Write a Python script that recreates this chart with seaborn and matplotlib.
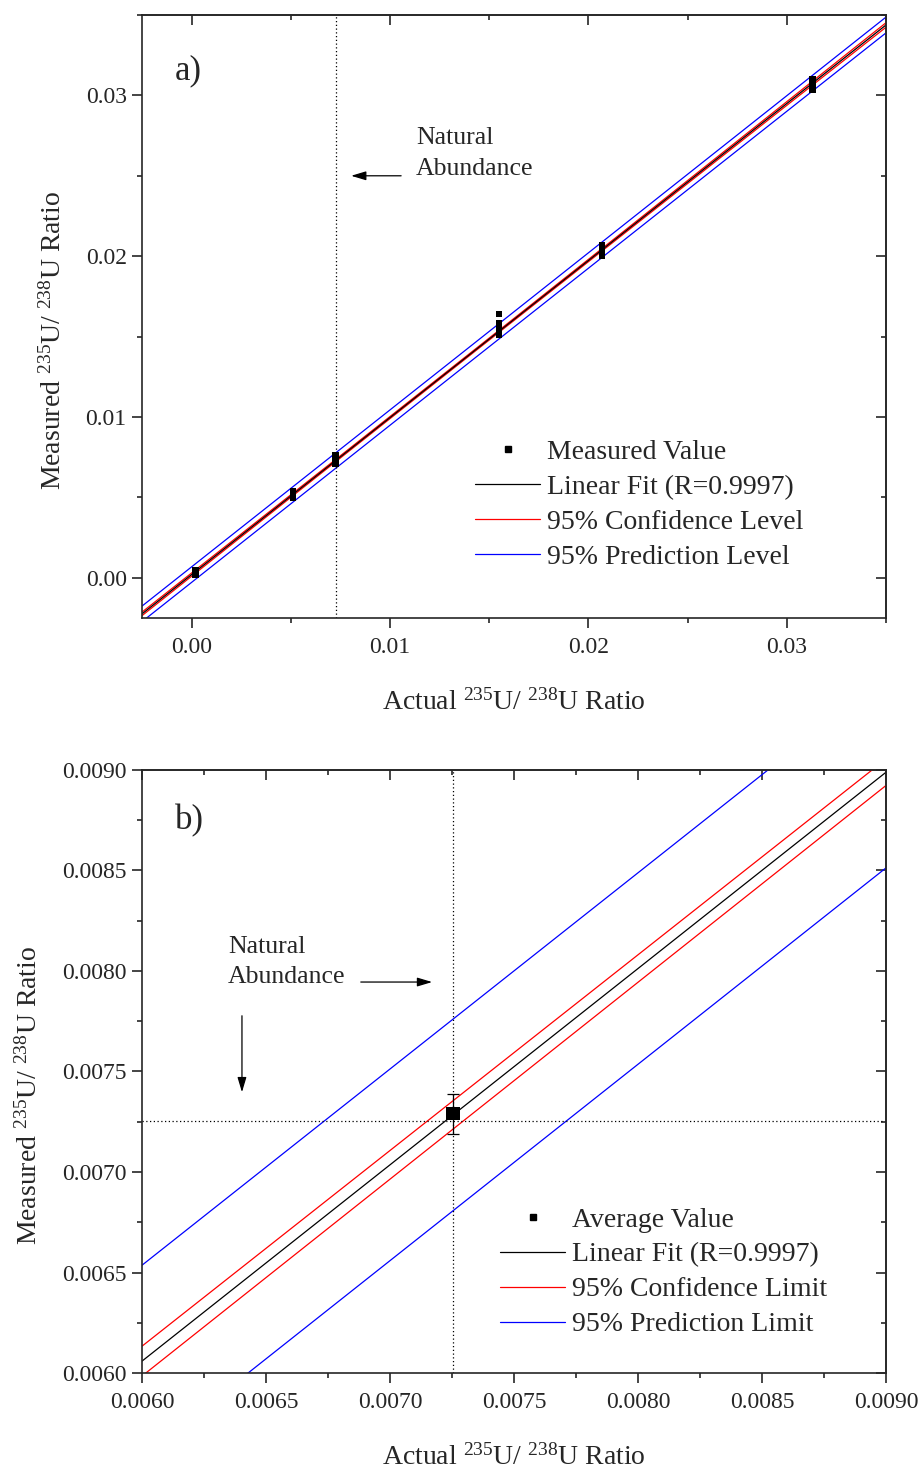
import matplotlib

matplotlib.use("Agg")
import matplotlib.pyplot as plt
import numpy as np
import pandas as pd
import seaborn as sns
from matplotlib.lines import Line2D
from matplotlib.ticker import FormatStrFormatter, MultipleLocator

# actual 235U/238U ratio of each standard and the measured replicates
actual_levels = [0.0002, 0.0051, 0.00725, 0.0155, 0.0207, 0.0313]
measured_1 = [0.00018, 0.00022, 0.00026, 0.00028, 0.00030, 0.00032, 0.00036, 0.00040, 0.00042, 0.00046]
measured_2 = [0.00495, 0.00500, 0.00505, 0.00510, 0.00515, 0.00518, 0.00522, 0.00528, 0.00535, 0.00542]
measured_3 = [0.00706, 0.00710, 0.00716, 0.00722, 0.00728, 0.00734, 0.00740, 0.00746, 0.00752, 0.00766]
measured_4 = [0.01512, 0.01516, 0.01520, 0.01526, 0.01532, 0.01538, 0.01546, 0.01558, 0.01582, 0.01640]
measured_5 = [0.02000, 0.02010, 0.02020, 0.02028, 0.02035, 0.02042, 0.02048, 0.02055, 0.02062, 0.02070]
measured_6 = [0.03035, 0.03045, 0.03055, 0.03062, 0.03070, 0.03076, 0.03083, 0.03090, 0.03100, 0.03104]
measured_sets = [measured_1, measured_2, measured_3, measured_4, measured_5, measured_6]

natural_ratio = 0.007253
avg_measured = 0.00729
avg_error = 0.0001
t_value = 2.0017  # two sided 95 %, n - 2 = 58 dof

label_x = r"Actual $^{235}$U/ $^{238}$U Ratio"
label_y = r"Measured $^{235}$U/ $^{238}$U Ratio"

rows = []
for level, values in zip(actual_levels, measured_sets):
    for v in values:
        rows.append({"actual": level, "measured": v})
df = pd.DataFrame(rows)

# linear fit with confidence / prediction bands
n = len(df)
slope, intercept = np.polyfit(df["actual"], df["measured"], 1)
resid = df["measured"] - (slope * df["actual"] + intercept)
s_err = np.sqrt(np.sum(resid**2) / (n - 2))
x_mean = df["actual"].mean()
sxx = np.sum((df["actual"] - x_mean) ** 2)


def fit_bands(xs):
    fit = slope * xs + intercept
    lev = 1 / n + (xs - x_mean) ** 2 / sxx
    conf = t_value * s_err * np.sqrt(lev)
    pred = t_value * s_err * np.sqrt(1 + lev)
    return fit, conf, pred


def draw_fit(ax, x0, x1):
    xs = np.linspace(x0, x1, 300)
    fit, conf, pred = fit_bands(xs)
    for y, c in [(fit + pred, "blue"), (fit - pred, "blue"),
                 (fit + conf, "red"), (fit - conf, "red"), (fit, "black")]:
        sns.lineplot(x=xs, y=y, color=c, lw=0.9, ax=ax, sort=False)


def style_axes(ax, lim, major, minor, fmt):
    ax.set_xlim(lim)
    ax.set_ylim(lim)
    for axis in (ax.xaxis, ax.yaxis):
        axis.set_major_locator(MultipleLocator(major))
        axis.set_minor_locator(MultipleLocator(minor))
        axis.set_major_formatter(FormatStrFormatter(fmt))
    ax.tick_params(which="major", direction="out", length=7, width=1.2, labelsize=17)
    ax.tick_params(axis="x", which="major", pad=7)
    ax.tick_params(axis="y", which="major", pad=4)
    ax.tick_params(which="minor", direction="out", length=3.5, width=1.2)
    for sp in ax.spines.values():
        sp.set_linewidth(1.2)
    top = ax.secondary_xaxis("top")
    right = ax.secondary_yaxis("right")
    for sec, axis in ((top, top.xaxis), (right, right.yaxis)):
        axis.set_major_locator(MultipleLocator(major))
        axis.set_minor_locator(MultipleLocator(minor))
        sec.tick_params(which="major", direction="in", length=7, width=1.2)
        sec.tick_params(which="minor", direction="in", length=3.5, width=1.2)
        sec.tick_params(labeltop=False, labelright=False)
        for sp in sec.spines.values():
            sp.set_linewidth(1.2)
    ax.set_xlabel(label_x, fontsize=20, labelpad=22)
    ax.set_ylabel(label_y, fontsize=20, labelpad=14)
    ax.yaxis.label.set_y(0.46)


def legend(ax, labels, anchor):
    handles = [
        Line2D([], [], marker="s", ls="none", color="black", ms=4),
        Line2D([], [], color="black", lw=0.9),
        Line2D([], [], color="red", lw=0.9),
        Line2D([], [], color="blue", lw=0.9),
    ]
    ax.legend(handles, labels, loc="upper left", bbox_to_anchor=anchor, frameon=False,
              fontsize=20, handlelength=2.35, handletextpad=0.25, labelspacing=0.34,
              borderpad=0, borderaxespad=0)


sns.set_style("ticks")
plt.rcParams["font.family"] = ["Liberation Serif", "DejaVu Serif"]
plt.rcParams["mathtext.fontset"] = "custom"
plt.rcParams["mathtext.rm"] = "Liberation Serif"
plt.rcParams["mathtext.default"] = "regular"

fig = plt.figure(figsize=(9.21, 14.68), dpi=100)
ax_a = fig.add_axes([0.1542, 0.579, 0.8078, 0.4108])
ax_b = fig.add_axes([0.1542, 0.0647, 0.8078, 0.4108])

# a) full calibration range
lim_a = (-0.0025, 0.035)
draw_fit(ax_a, *lim_a)
sns.scatterplot(data=df, x="actual", y="measured", marker="s", s=20, color="black",
                edgecolor="none", ax=ax_a, zorder=5)
ax_a.axvline(natural_ratio, color="black", lw=0.9, ls=(0, (1, 2)))
style_axes(ax_a, lim_a, 0.01, 0.005, "%.2f")
ax_a.text(-0.00085, 0.03155, "a)", fontsize=25, ha="left", va="center")
ax_a.text(0.0113, 0.0264, "Natural\nAbundance", fontsize=18.5, ha="left", va="center",
          linespacing=1.5)
ax_a.annotate("", xy=(0.0079, 0.0250), xytext=(0.0107, 0.0250),
              arrowprops=dict(arrowstyle="-|>,head_length=0.5,head_width=0.15",
                              color="black", lw=0.9, mutation_scale=18))
legend(ax_a, ["Measured Value", "Linear Fit (R=0.9997)", "95% Confidence Level",
              "95% Prediction Level"], (0.4476, 0.296))

# b) zoom on natural abundance
lim_b = (0.006, 0.009)
draw_fit(ax_b, *lim_b)
ax_b.axvline(natural_ratio, color="black", lw=0.9, ls=(0, (1, 2)))
ax_b.axhline(natural_ratio, color="black", lw=0.9, ls=(0, (1, 2)))
ax_b.errorbar([natural_ratio], [avg_measured], yerr=[avg_error], fmt="none",
              ecolor="black", elinewidth=0.9, capsize=4.5, capthick=0.9, zorder=6)
sns.scatterplot(x=[natural_ratio], y=[avg_measured], marker="s", s=95, color="black",
                edgecolor="none", ax=ax_b, zorder=7)
style_axes(ax_b, lim_b, 0.0005, 0.00025, "%.4f")
ax_b.text(0.006133, 0.00875, "b)", fontsize=25, ha="left", va="center")
ax_b.text(0.006347, 0.008045, "Natural\nAbundance", fontsize=18.5, ha="left", va="center",
          linespacing=1.5)
ax_b.annotate("", xy=(0.007181, 0.007945), xytext=(0.006871, 0.007945),
              arrowprops=dict(arrowstyle="-|>,head_length=0.5,head_width=0.15",
                              color="black", lw=0.9, mutation_scale=18))
ax_b.annotate("", xy=(0.006403, 0.007383), xytext=(0.006403, 0.007791),
              arrowprops=dict(arrowstyle="-|>,head_length=0.5,head_width=0.15",
                              color="black", lw=0.9, mutation_scale=18))
legend(ax_b, ["Average Value", "Linear Fit (R=0.9997)", "95% Confidence Limit",
              "95% Prediction Limit"], (0.481, 0.275))

fig.savefig("out.png", dpi=100)
